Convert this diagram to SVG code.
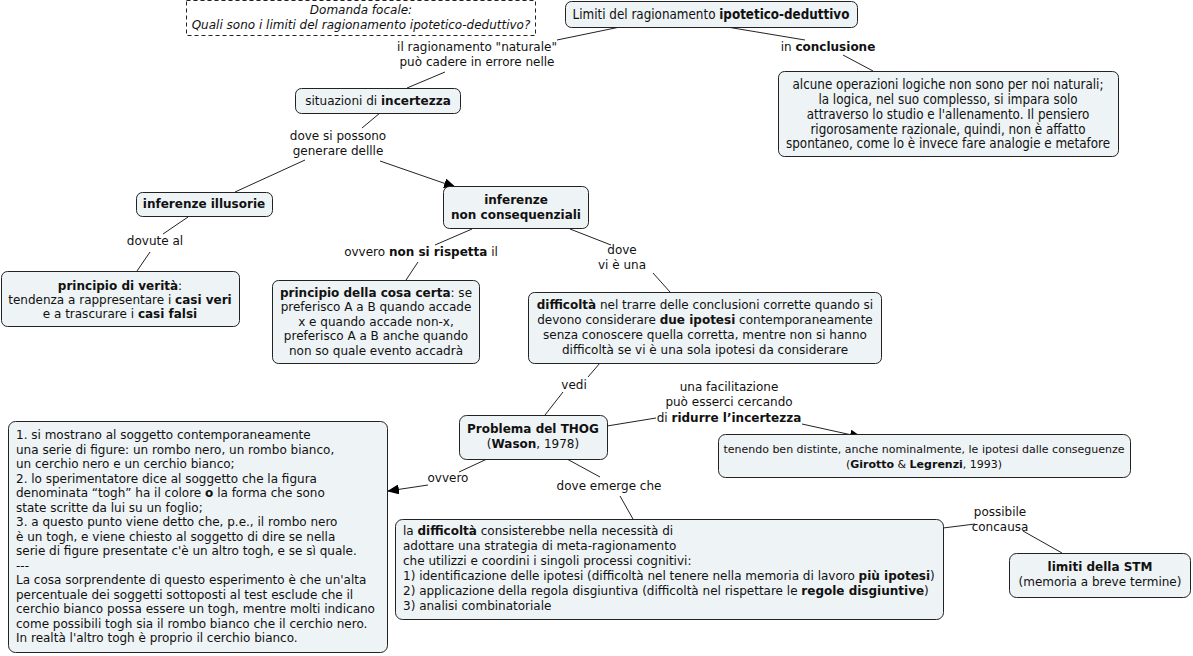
<svg xmlns="http://www.w3.org/2000/svg" width="1193" height="656" viewBox="0 0 1193 656">
<defs>
<marker id="arr" viewBox="0 0 12 10" refX="11" refY="5" markerWidth="12" markerHeight="10" markerUnits="userSpaceOnUse" orient="auto">
<path d="M0,0 L12,5 L0,10 Z" fill="#000"/>
</marker>
<style>
.n{fill:#eef3f5;stroke:#222;stroke-width:1}
.t{font-family:"DejaVu Sans","Noto Sans",sans-serif;font-size:12px;fill:#111}
.s{font-size:11px}
.c{text-anchor:middle}
.b{font-weight:bold}
.k{font-family:"DejaVu Sans Condensed","DejaVu Sans",sans-serif;font-size:13.3px;fill:#111}
.e{fill:none;stroke:#222;stroke-width:1}
</style>
</defs>
<rect width="1193" height="656" fill="#fff"/>

<g id="connectors">
<polyline class="e" points="620,27 557,40"/>
<polyline class="e" points="445,72 407,88"/>
<polyline class="e" points="727,27 805,40"/>
<polyline class="e" points="843,55 873,71"/>
<polyline class="e" points="380,113 362,128"/>
<polyline class="e" points="305,160 235,192"/>
<polyline class="e" points="380,161 455,187" marker-end="url(#arr)"/>
<polyline class="e" points="188,217 163,234"/>
<polyline class="e" points="150,252 137,271"/>
<polyline class="e" points="472,229 435,245"/>
<polyline class="e" points="418,262 406,280"/>
<polyline class="e" points="570,229 611,245"/>
<polyline class="e" points="653,273 670,292"/>
<polyline class="e" points="600,363 588,377"/>
<polyline class="e" points="563,392 545,415"/>
<polyline class="e" points="607,426 656,418"/>
<polyline class="e" points="802,424 861,437" marker-end="url(#arr)"/>
<polyline class="e" points="487,459 459,472"/>
<polyline class="e" points="428,485 388,491" marker-end="url(#arr)"/>
<polyline class="e" points="567,459 600,477"/>
<polyline class="e" points="620,496 633,519"/>
<polyline class="e" points="943,528 975,524"/>
<polyline class="e" points="1023,531 1062,553"/>
</g>

<g id="labels">
<text class="t c" x="477" y="51">il ragionamento "naturale"</text>
<text class="t c" x="477" y="66">può cadere in errore nelle</text>
<text class="t c" x="828" y="51">in <tspan class="b">conclusione</tspan></text>
<text class="t c" x="338" y="140">dove si possono</text>
<text class="t c" x="338" y="155">generare dellle</text>
<text class="t c" x="155" y="245">dovute al</text>
<text class="t c" x="421" y="256">ovvero <tspan class="b">non si rispetta</tspan> il</text>
<text class="t c" x="622" y="254">dove</text>
<text class="t c" x="622" y="269">vi è una</text>
<text class="t c" x="574" y="389">vedi</text>
<text class="t c" x="729" y="391">una facilitazione</text>
<text class="t c" x="729" y="406">può esserci cercando</text>
<text class="t c" x="729" y="422">di <tspan class="b">ridurre l’incertezza</tspan></text>
<text class="t c" x="448" y="482">ovvero</text>
<text class="t c" x="609" y="490">dove emerge che</text>
<text class="t c" x="1000" y="516">possibile</text>
<text class="t c" x="1000" y="531">concausa</text>
</g>

<g id="focal">
<rect x="186.5" y="0.5" width="349" height="35" fill="#fff" stroke="#222" stroke-dasharray="4,3"/>
<text class="t c" x="361" y="14" font-style="italic">Domanda focale:</text>
<text class="t c" x="361" y="29" font-style="italic">Quali sono i limiti del ragionamento ipotetico-deduttivo?</text>
</g>

<g id="root">
<rect class="n" x="565.5" y="1.5" width="292" height="26" rx="6"/>
<text class="k c" x="711" y="19">Limiti del ragionamento <tspan class="b">ipotetico-deduttivo</tspan></text>
</g>

<g id="conclusione">
<rect class="n" x="778.5" y="71.5" width="340" height="85" rx="6"/>
<text class="k c" x="948" y="89">alcune operazioni logiche non sono per noi naturali;</text>
<text class="k c" x="948" y="104">la logica, nel suo complesso, si impara solo</text>
<text class="k c" x="948" y="119">attraverso lo studio e l'allenamento. Il pensiero</text>
<text class="k c" x="948" y="134">rigorosamente razionale, quindi, non è affatto</text>
<text class="k c" x="948" y="148">spontaneo, come lo è invece fare analogie e metafore</text>
</g>

<g id="incertezza">
<rect class="n" x="295.5" y="88.5" width="165" height="25" rx="6"/>
<text class="t c" x="378" y="105">situazioni di <tspan class="b">incertezza</tspan></text>
</g>

<g id="illusorie">
<rect class="n" x="136.5" y="192.5" width="136" height="24" rx="6"/>
<text class="t c b" x="204" y="208">inferenze illusorie</text>
</g>

<g id="nonconseq">
<rect class="n" x="443.5" y="186.5" width="145" height="42" rx="6"/>
<text class="t c b" x="516" y="204">inferenze</text>
<text class="t c b" x="516" y="219">non consequenziali</text>
</g>

<g id="verita">
<rect class="n" x="1.5" y="271.5" width="238" height="55" rx="6"/>
<text class="t c" x="120" y="290"><tspan class="b">principio di verità</tspan>:</text>
<text class="t c" x="120" y="304">tendenza a rappresentare i <tspan class="b">casi veri</tspan></text>
<text class="t c" x="120" y="318">e a trascurare i <tspan class="b">casi falsi</tspan></text>
</g>

<g id="cosacerta">
<rect class="n" x="272.5" y="280.5" width="207" height="83" rx="6"/>
<text class="t c" x="376" y="297"><tspan class="b">principio della cosa certa</tspan>: se</text>
<text class="t c" x="376" y="311">preferisco A a B quando accade</text>
<text class="t c" x="376" y="326">x e quando accade non-x,</text>
<text class="t c" x="376" y="340">preferisco A a B anche quando</text>
<text class="t c" x="376" y="355">non so quale evento accadrà</text>
</g>

<g id="difficolta">
<rect class="n" x="528.5" y="292.5" width="353" height="71" rx="6"/>
<text class="t c" x="705" y="309"><tspan class="b">difficoltà</tspan> nel trarre delle conclusioni corrette quando si</text>
<text class="t c" x="705" y="324">devono considerare <tspan class="b">due ipotesi</tspan> contemporaneamente</text>
<text class="t c" x="705" y="339">senza conoscere quella corretta, mentre non si hanno</text>
<text class="t c" x="705" y="354">difficoltà se vi è una sola ipotesi da considerare</text>
</g>

<g id="thog">
<rect class="n" x="459.5" y="415.5" width="148" height="44" rx="7"/>
<text class="t c b" x="533" y="433">Problema del THOG</text>
<text class="t c" x="533" y="448">(<tspan class="b">Wason</tspan>, 1978)</text>
</g>

<g id="tenendo">
<rect class="n" x="718.5" y="434.5" width="412" height="43" rx="7"/>
<text class="t s c" x="924" y="453">tenendo ben distinte, anche nominalmente, le ipotesi dalle conseguenze</text>
<text class="t s c" x="924" y="468">(<tspan class="b">Girotto</tspan> &amp; <tspan class="b">Legrenzi</tspan>, 1993)</text>
</g>

<g id="esperimento">
<rect class="n" x="8.5" y="421.5" width="379" height="231" rx="7"/>
<text class="t" x="16" y="439">1. si mostrano al soggetto contemporaneamente</text>
<text class="t" x="16" y="453.5">una serie di figure: un rombo nero, un rombo bianco,</text>
<text class="t" x="16" y="468">un cerchio nero e un cerchio bianco;</text>
<text class="t" x="16" y="482.5">2. lo sperimentatore dice al soggetto che la figura</text>
<text class="t" x="16" y="497">denominata “togh” ha il colore <tspan class="b">o</tspan> la forma che sono</text>
<text class="t" x="16" y="511.5">state scritte da lui su un foglio;</text>
<text class="t" x="16" y="526">3. a questo punto viene detto che, p.e., il rombo nero</text>
<text class="t" x="16" y="540.5">è un togh, e viene chiesto al soggetto di dire se nella</text>
<text class="t" x="16" y="555">serie di figure presentate c'è un altro togh, e se sì quale.</text>
<text class="t" x="16" y="569.5">---</text>
<text class="t" x="16" y="584">La cosa sorprendente di questo esperimento è che un'alta</text>
<text class="t" x="16" y="598.5">percentuale dei soggetti sottoposti al test esclude che il</text>
<text class="t" x="16" y="613">cerchio bianco possa essere un togh, mentre molti indicano</text>
<text class="t" x="16" y="627.5">come possibili togh sia il rombo bianco che il cerchio nero.</text>
<text class="t" x="16" y="642">In realtà l'altro togh è proprio il cerchio bianco.</text>
</g>

<g id="metaragionamento">
<rect class="n" x="395.5" y="519.5" width="548" height="100" rx="7"/>
<text class="t" x="403" y="535">la <tspan class="b">difficoltà</tspan> consisterebbe nella necessità di</text>
<text class="t" x="403" y="550">adottare una strategia di meta-ragionamento</text>
<text class="t" x="403" y="565">che utilizzi e coordini i singoli processi cognitivi:</text>
<text class="t" x="403" y="580">1) identificazione delle ipotesi (difficoltà nel tenere nella memoria di lavoro <tspan class="b">più ipotesi</tspan>)</text>
<text class="t" x="403" y="595">2) applicazione della regola disgiuntiva (difficoltà nel rispettare le <tspan class="b">regole disgiuntive</tspan>)</text>
<text class="t" x="403" y="610">3) analisi combinatoriale</text>
</g>

<g id="stm">
<rect class="n" x="1009.5" y="553.5" width="181" height="44" rx="7"/>
<text class="t c b" x="1100" y="571">limiti della STM</text>
<text class="t c" x="1100" y="586">(memoria a breve termine)</text>
</g>
</svg>
